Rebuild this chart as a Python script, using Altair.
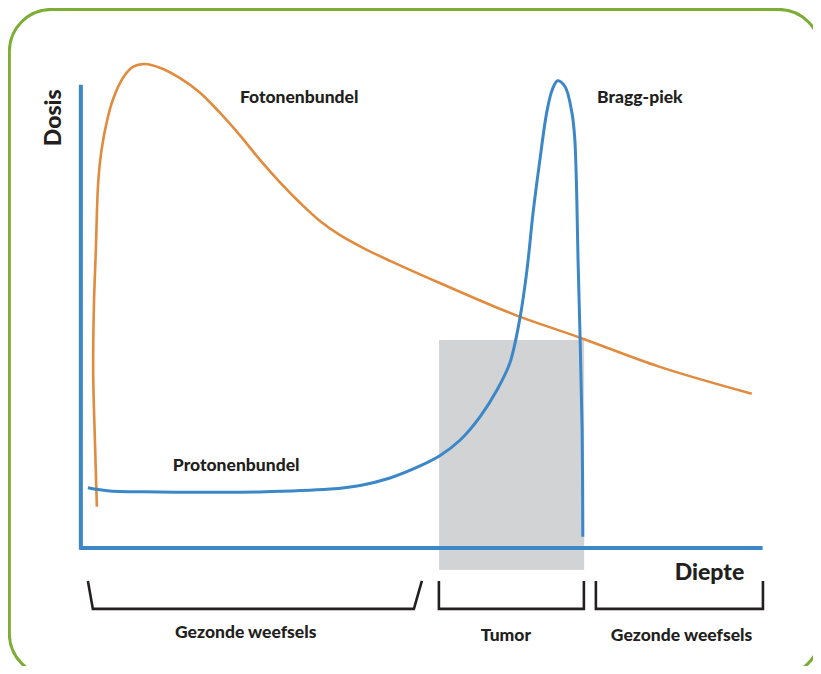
import altair as alt
import pandas as pd

# ---- data (depth 0-100 along the x-axis, dose 0-100 up the y-axis) ----
photon_depth = [2.35, 2.06, 1.81, 1.91, 2.20, 2.54, 3.04, 3.77, 4.70, 6.17, 7.64, 9.40,
                11.6, 14.5, 17.5, 20.4, 23.3, 26.3, 29.2, 32.2, 35.1, 38.0, 41.7, 45.4,
                52.7, 60.1, 64.5, 73.3, 85.0, 98.5]
photon_dose = [8.9, 23.3, 37.8, 52.1, 64.4, 78.8, 86.0, 91.8, 96.8, 101.5, 103.9, 104.5,
               103.7, 101.5, 98.3, 94.0, 89.2, 83.8, 79.0, 74.5, 70.6, 67.6, 64.6, 62.0,
               57.2, 52.5, 49.9, 45.4, 39.1, 33.3]

proton_depth = [1.03, 4.26, 11.6, 26.3, 36.6, 41.0, 45.4, 49.8, 52.7, 55.7, 58.6, 61.1,
                63.0, 64.5, 65.5, 66.4, 67.4, 68.4, 69.2, 70.0, 71.1, 72.1, 72.5, 72.8,
                73.0, 73.3, 73.6, 73.7]
proton_dose = [13.0, 12.3, 12.1, 12.1, 12.7, 13.5, 15.1, 17.7, 19.9, 23.3, 28.3, 34.1,
               40.0, 49.9, 60.0, 72.4, 83.8, 94.0, 98.9, 100.9, 99.6, 94.0, 88.8, 76.7,
               62.2, 45.6, 25.5, 2.4]

tumor_depth = [52.6, 73.9]
tumor_dose = [-4.75, 44.9]

# region brackets below the depth axis
bracket_id = ["gezond1"] * 4 + ["tumor"] * 4 + ["gezond2"] * 4
bracket_depth = [1.03, 1.76, 48.9, 50.07,
                 52.57, 52.57, 73.86, 73.86,
                 75.62, 75.62, 100.15, 100.15]
bracket_dose = [-7.13, -13.17, -13.17, -7.13] * 3

region_labels = ["Gezonde weefsels", "Tumor", "Gezonde weefsels"]
region_depth = [24.2, 62.4, 88.2]
region_dose = [-18.4, -19.0, -19.0]

curve_labels = ["Fotonenbundel", "Bragg-piek", "Protonenbundel"]
curve_label_depth = [23.35, 75.8, 13.5]
curve_label_dose = [97.2, 97.2, 17.7]

# ---- styling ----
ORANGE = "#e08b3e"
BLUE = "#3b87c7"
GREY = "#d2d3d5"
GREEN = "#7cad35"
TEXT = "#231f20"
FONT = "Lato"
WEIGHT = 900

xs = alt.Scale(domain=[-10.7, 107.5], nice=False, zero=False)
ys = alt.Scale(domain=[-25.5, 116.6], nice=False, zero=False)


def X(f="depth"):
    return alt.X(f"{f}:Q", scale=xs, axis=None)


def Y(f="dose"):
    return alt.Y(f"{f}:Q", scale=ys, axis=None)


photon = pd.DataFrame({"depth": photon_depth, "dose": photon_dose,
                       "i": range(len(photon_depth))})
proton = pd.DataFrame({"depth": proton_depth, "dose": proton_dose,
                       "i": range(len(proton_depth))})
tumor = pd.DataFrame({"depth": [tumor_depth[0]], "depth2": [tumor_depth[1]],
                      "dose": [tumor_dose[0]], "dose2": [tumor_dose[1]]})
axes = pd.DataFrame({"depth": [0.0, -0.15], "depth2": [0.0, 100.1],
                     "dose": [-0.4, 0.0], "dose2": [100.0, 0.0]})
border = pd.DataFrame({"depth": [-10.5], "depth2": [108.6],
                       "dose": [116.3], "dose2": [-27.6]})
brackets = pd.DataFrame({"b": bracket_id, "depth": bracket_depth, "dose": bracket_dose,
                         "i": range(len(bracket_id))})
regions = pd.DataFrame({"t": region_labels, "depth": region_depth, "dose": region_dose})
clabels = pd.DataFrame({"t": curve_labels, "depth": curve_label_depth,
                        "dose": curve_label_dose})

border_l = alt.Chart(border).mark_rect(
    fillOpacity=0, stroke=GREEN, strokeWidth=3, cornerRadius=42
).encode(x=X(), x2="depth2:Q", y=Y(), y2="dose2:Q")

tumor_l = alt.Chart(tumor).mark_rect(color=GREY).encode(
    x=X(), x2="depth2:Q", y=Y(), y2="dose2:Q")

axes_l = alt.Chart(axes).mark_rule(color=BLUE, strokeWidth=4).encode(
    x=X(), x2="depth2:Q", y=Y(), y2="dose2:Q")

photon_l = alt.Chart(photon).mark_line(
    color=ORANGE, strokeWidth=2.6, interpolate="catmull-rom"
).encode(x=X(), y=Y(), order="i:Q")

proton_l = alt.Chart(proton).mark_line(
    color=BLUE, strokeWidth=3, interpolate="catmull-rom"
).encode(x=X(), y=Y(), order="i:Q")

brackets_l = alt.Chart(brackets).mark_line(
    color=TEXT, strokeWidth=2.6, strokeJoin="miter"
).encode(x=X(), y=Y(), detail="b:N", order="i:Q")

regions_l = alt.Chart(regions).mark_text(
    font=FONT, fontSize=17.5, fontWeight=WEIGHT, color=TEXT, align="center",
    baseline="middle"
).encode(x=X(), y=Y(), text="t:N")

clabels_l = alt.Chart(clabels).mark_text(
    font=FONT, fontSize=17.5, fontWeight=WEIGHT, color=TEXT, align="left",
    baseline="middle"
).encode(x=X(), y=Y(), text="t:N")

diepte_l = alt.Chart(pd.DataFrame({"t": ["Diepte"], "depth": [97.4], "dose": [-5.4]})).mark_text(
    font=FONT, fontSize=23, fontWeight=WEIGHT, color=TEXT, align="right",
    baseline="middle"
).encode(x=X(), y=Y(), text="t:N")

dosis_l = alt.Chart(pd.DataFrame({"t": ["Dosis"], "depth": [-3.95], "dose": [92.9]})).mark_text(
    font=FONT, fontSize=23, fontWeight=WEIGHT, color=TEXT, align="center",
    baseline="middle", angle=270
).encode(x=X(), y=Y(), text="t:N")

chart = alt.layer(
    border_l, tumor_l, axes_l, photon_l, proton_l, brackets_l,
    regions_l, clabels_l, diepte_l, dosis_l
).properties(
    width=805, height=658, padding=0,
    autosize=alt.AutoSizeParams(type="none"),
    background="white"
).configure_view(stroke=None)

chart.save("out.html", embed_options={"renderer": "svg", "actions": False})
